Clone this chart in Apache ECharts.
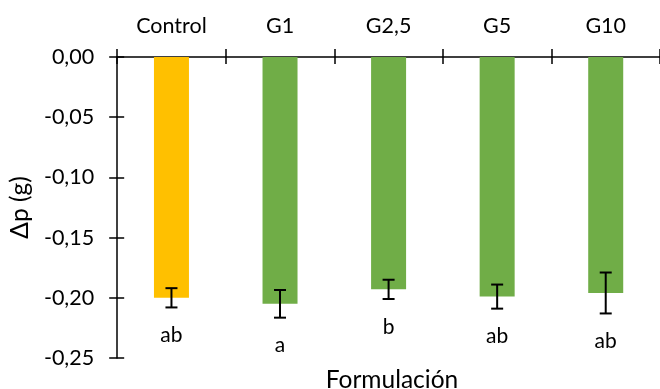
<!DOCTYPE html>
<html><head><meta charset="utf-8">
<script src="https://cdn.jsdelivr.net/npm/echarts@6/dist/echarts.min.js"></script>
<style>html,body{margin:0;padding:0;background:#fff}#c{width:660px;height:389px}</style>
</head><body><div id="c"></div>
<script>
var categories = ['Control', 'G1', 'G2,5', 'G5', 'G10'];
var values = [-0.200, -0.205, -0.193, -0.199, -0.196];
var errors = [0.008, 0.0115, 0.008, 0.010, 0.017];
var letters = ['ab', 'a', 'b', 'ab', 'ab'];
var barColors = ['#FFC000', '#70AD47', '#70AD47', '#70AD47', '#70AD47'];
var yTicks = [-0.25, -0.20, -0.15, -0.10, -0.05, 0.00];

var FONT = 'Lato';
var chart = echarts.init(document.getElementById('c'), null, {renderer: 'canvas'});
var fmt = function (v) { return (Math.abs(v) < 1e-9 ? 0 : v).toFixed(2).replace('.', ','); };

var grid = {left: 117, top: 57, width: 550, height: 301};
var axisLineStyle = {color: '#000', width: 1.5};

chart.setOption({
  animation: false,
  grid: grid,
  xAxis: [{
    type: 'category', data: categories, position: 'top',
    axisLine: {show: true, lineStyle: axisLineStyle},
    axisTick: {show: true, length: 8, lineStyle: axisLineStyle},
    axisLabel: {fontFamily: FONT, fontSize: 21.5, color: '#000', margin: 20}
  }, {
    type: 'category', data: categories, position: 'top',
    axisLine: {show: false},
    axisTick: {show: true, inside: true, length: 7, lineStyle: axisLineStyle},
    axisLabel: {show: false}
  }],
  yAxis: [{
    type: 'value', min: yTicks[0], max: yTicks[yTicks.length - 1], interval: 0.05,
    axisLine: {show: true, lineStyle: axisLineStyle},
    axisTick: {show: true, length: 8, lineStyle: axisLineStyle},
    splitLine: {show: false},
    axisLabel: {fontFamily: FONT, fontSize: 21.5, color: '#000', margin: 23, formatter: fmt},
    name: 'Δp (g)', nameLocation: 'middle', nameGap: 80, nameRotate: 90,
    nameTextStyle: {fontFamily: FONT, fontSize: 24.5, color: '#000'}
  }, {
    type: 'value', min: yTicks[0], max: yTicks[yTicks.length - 1], interval: 0.05, position: 'left',
    axisLine: {show: false},
    axisTick: {show: true, inside: true, length: 7, lineStyle: axisLineStyle},
    splitLine: {show: false},
    axisLabel: {show: false}
  }],
  graphic: [{
    type: 'text', x: 117 + 275, y: 380,
    style: {text: 'Formulación', font: '24.5px ' + FONT, fill: '#000', textAlign: 'center', textVerticalAlign: 'middle'}
  }],
  series: [{
    type: 'bar', barWidth: 35, xAxisIndex: 0, yAxisIndex: 0,
    data: values.map(function (v, i) { return {value: v, itemStyle: {color: barColors[i]}}; })
  }, {
    type: 'custom', xAxisIndex: 0, yAxisIndex: 0, z: 10,
    data: values.map(function (v, i) { return [i, v, errors[i]]; }),
    renderItem: function (params, api) {
      var i = api.value(0), v = api.value(1), e = api.value(2);
      var hi = api.coord([i, v + e]);
      var lo = api.coord([i, v - e]);
      var cap = 6;
      var st = {stroke: '#000', lineWidth: 2};
      var idx = params.dataIndex;
      return {type: 'group', children: [
        {type: 'line', shape: {x1: hi[0], y1: hi[1], x2: lo[0], y2: lo[1]}, style: st},
        {type: 'line', shape: {x1: hi[0] - cap, y1: hi[1], x2: hi[0] + cap, y2: hi[1]}, style: st},
        {type: 'line', shape: {x1: lo[0] - cap, y1: lo[1], x2: lo[0] + cap, y2: lo[1]}, style: st},
        {type: 'text', x: lo[0], y: lo[1] + 28, style: {text: letters[idx], font: '21px ' + FONT, fill: '#000', textAlign: 'center', textVerticalAlign: 'middle'}}
      ]};
    }
  }]
});
</script></body></html>
